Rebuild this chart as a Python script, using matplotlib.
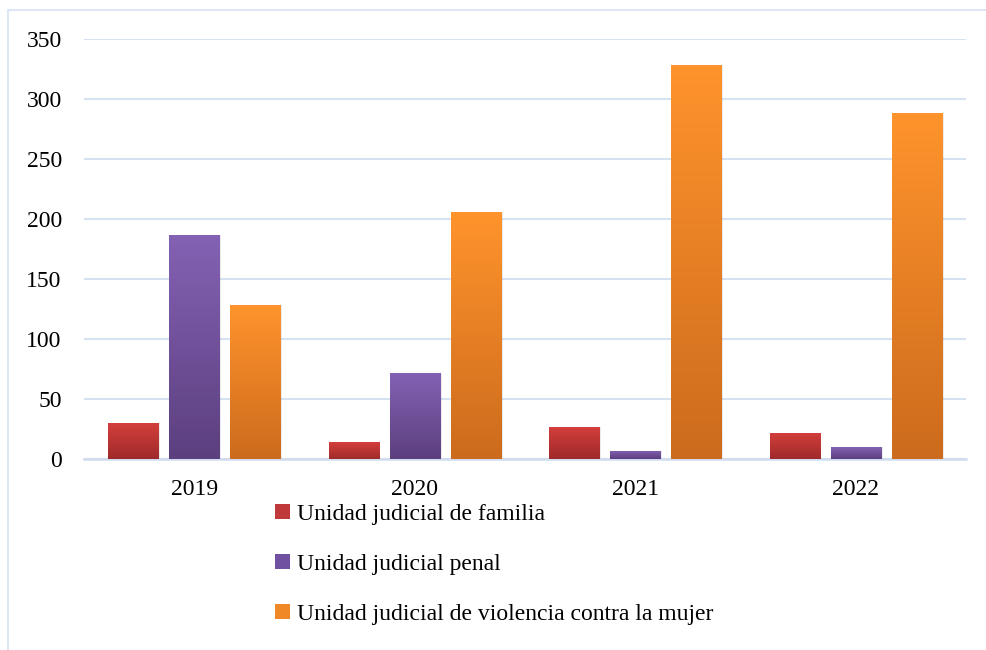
import numpy as np
import matplotlib
matplotlib.use("Agg")
import matplotlib.pyplot as plt
from matplotlib.colors import LinearSegmentedColormap
from matplotlib.patches import Rectangle, Patch

plt.rcParams['font.family'] = ['Liberation Serif', 'DejaVu Serif']

years = ["2019", "2020", "2021", "2022"]
series = ["Unidad judicial de familia", "Unidad judicial penal",
          "Unidad judicial de violencia contra la mujer"]
familia = [30, 14, 27, 22]
penal = [187, 72, 7, 10]
violencia = [128, 206, 328, 288]
values = [familia, penal, violencia]

top_cols = ["#D43F3C", "#8462B4", "#FF942C"]
bot_cols = ["#9E2A2A", "#5C3F7F", "#CC6B1D"]
legend_cols = ["#C0393A", "#7050A0", "#F08828"]

fig = plt.figure(figsize=(9.87, 6.5), dpi=100)
ax = fig.add_axes([84/987, 1-459/650, (966-84)/987, (459-39)/650])

x = np.arange(len(years))
width = 0.227
step = 0.277
ax.set_xlim(-0.5, len(years)-0.5)
ax.set_ylim(0, 350)

grad = np.linspace(0, 1, 256).reshape(-1, 1)
for i, vals in enumerate(values):
    cmap = LinearSegmentedColormap.from_list(f"g{i}", [bot_cols[i], top_cols[i]])
    for xi, v in zip(x, vals):
        left = xi + (i-1)*step - width/2
        sh = Rectangle((left+0.008, 0), width, v, facecolor="#000000", alpha=0.08,
                       edgecolor="none", zorder=2)
        ax.add_patch(sh)
        bars = ax.bar(xi + (i-1)*step, v, width=width, color="none", edgecolor="none", zorder=3)
        b = bars[0]
        im = ax.imshow(grad, cmap=cmap, origin="lower", aspect="auto",
                       extent=[left, left+width, 0, v], zorder=3)
        im.set_clip_path(b)

ax.set_xlim(-0.5, len(years)-0.5)
ax.set_ylim(0, 350)
ax.set_yticks(np.arange(0, 351, 50))
ax.set_xticks(x)
ax.set_xticklabels(years)
ax.tick_params(axis='both', length=0, labelsize=17, colors="#000000")
ax.tick_params(axis='y', pad=16)
ax.tick_params(axis='x', pad=14.5)
ax.grid(axis='y', color="#D6E1F2", linewidth=1.5, zorder=0)
ax.set_axisbelow(True)
for s in ["top", "right", "left"]:
    ax.spines[s].set_visible(False)
ax.spines["bottom"].set_color("#D0DCEE")
ax.spines["bottom"].set_linewidth(1.8)

handles = [Patch(facecolor=c, edgecolor="none") for c in legend_cols]
fig.legend(handles, series, loc="upper left", bbox_to_anchor=(275/987, 1-504/650),
           frameon=False, fontsize=17, handlelength=0.62, handleheight=0.62,
           handletextpad=0.3, labelspacing=1.23, borderpad=0, borderaxespad=0)

border = Rectangle((8/987, -0.1), 1.2, 1-10/650+0.1, transform=fig.transFigure,
                   fill=False, edgecolor="#D6E2F2", linewidth=1.2)
fig.patches.append(border)

fig.savefig("out.png", dpi=100)
